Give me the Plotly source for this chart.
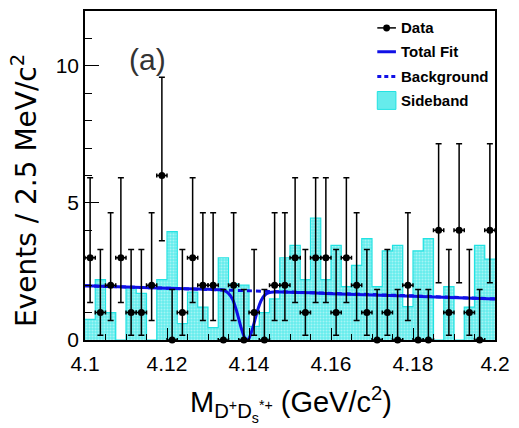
import numpy as np
import plotly.graph_objects as go

# ---------------- data ----------------
bin_low = 4.100
bin_width = 0.0025
n_bins = 40

data_counts = [3, 1, 2, 3, 1, 1, 2, 6, 0, 1,
               3, 2, 2, 0, 2, 0, 1, 0, 2, 2,
               3, 1, 3, 3, 1, 3, 2, 1, 0, 1,
               0, 2, 0, 0, 4, 1, 4, 1, 0, 4]

# asymmetric (Poisson) error sizes, keyed by count
err_up_by_count = {0: 1.84, 1: 2.30, 2: 2.64, 3: 2.92, 4: 3.16, 6: 3.58}
err_lo_by_count = {0: 0.0, 1: 0.83, 2: 1.29, 3: 1.63, 4: 1.91, 6: 2.38}

sideband = [0.75, 2.2, 1.0, 0.0, 1.95, 1.7, 0.0, 2.2, 3.95, 0.6,
            1.75, 1.2, 0.45, 3.0, 2.05, 2.0, 0.5, 1.0, 1.5, 3.0,
            3.45, 2.2, 4.45, 2.2, 3.45, 1.95, 2.72, 3.7, 1.95, 3.25,
            3.45, 1.22, 3.25, 3.7, 0.0, 1.95, 0.0, 1.2, 3.45, 2.95]

bkg_x = [4.100, 4.120, 4.140, 4.160, 4.180, 4.200]
bkg_y = [1.98, 1.89, 1.81, 1.71, 1.61, 1.50]

fit_x = [4.100, 4.120, 4.130, 4.133, 4.134, 4.135, 4.136, 4.137, 4.138,
         4.139, 4.1395, 4.140, 4.141, 4.142, 4.143, 4.144, 4.145, 4.146,
         4.148, 4.155, 4.160, 4.180, 4.200]
fit_y = [1.98, 1.89, 1.85, 1.83, 1.80, 1.70, 1.48, 1.05, 0.49,
         0.06, 0.0, 0.06, 0.48, 1.04, 1.45, 1.66, 1.73, 1.75,
         1.75, 1.72, 1.69, 1.60, 1.50]

x_tick_vals = [4.10, 4.12, 4.14, 4.16, 4.18, 4.20]
x_tick_text = ["4.1", "4.12", "4.14", "4.16", "4.18", "4.2"]
y_tick_vals = [0, 5, 10]
y_tick_text = ["0", "5", "10"]

# ---------------- derived ----------------
centers = bin_low + bin_width * (np.arange(n_bins) + 0.5)
err_up = [err_up_by_count[c] for c in data_counts]
err_lo = [err_lo_by_count[c] for c in data_counts]
edges = bin_low + bin_width * np.arange(n_bins + 1)
step_y = list(sideband) + [sideband[-1]]

FONT = "Liberation Sans, Arial, Helvetica, sans-serif"
WIDE = "DejaVu Sans, Liberation Sans, Arial, sans-serif"
BLUE = "#1010E6"
CYAN_BG = "#66ECEC"
CYAN_EDGE = "#22E2E2"

fig = go.Figure()

# sideband histogram
fig.add_trace(go.Bar(
    x=centers, y=sideband, width=bin_width,
    marker=dict(color=CYAN_BG, line=dict(width=0),
                pattern=dict(shape=".", fgcolor="#E6FCFC", bgcolor=CYAN_BG,
                             size=3, solidity=0.35, fillmode="overlay")),
    showlegend=False, hoverinfo="skip"))
fig.add_trace(go.Scatter(
    x=edges, y=step_y, mode="lines", line=dict(color=CYAN_EDGE, width=1.2, shape="hv"),
    showlegend=False, hoverinfo="skip"))

# background (dotted)
fig.add_trace(go.Scatter(
    x=bkg_x, y=bkg_y, mode="lines",
    line=dict(color=BLUE, width=3, dash="5px,4px"),
    showlegend=False))

# total fit
fig.add_trace(go.Scatter(
    x=fit_x, y=fit_y, mode="lines",
    line=dict(color=BLUE, width=3, shape="spline", smoothing=0.5),
    showlegend=False))

# data
fig.add_trace(go.Scatter(
    x=centers, y=data_counts, mode="markers",
    marker=dict(color="black", size=7, symbol="circle"),
    error_y=dict(type="data", symmetric=False, array=err_up, arrayminus=err_lo,
                 color="black", thickness=1.5, width=3),
    error_x=dict(type="constant", value=bin_width / 2, color="black",
                 thickness=1.5, width=2),
    cliponaxis=False,
    showlegend=False))

L, R, T, B = 85, 16, 9, 88
W, H = 519, 428
pw, ph = W - L - R, H - T - B


def px(x):
    return (x - L) / pw


def py(y):
    return (H - B - y) / ph


# legend (drawn manually)
leg_x0, leg_x1 = 383, 402
shapes = [
    dict(type="line", xref="paper", yref="paper", x0=px(leg_x0), x1=px(leg_x1),
         y0=py(26), y1=py(26), line=dict(color="black", width=1.5)),
    dict(type="circle", xref="paper", yref="paper", x0=px(389), x1=px(396),
         y0=py(29.5), y1=py(22.5), fillcolor="black", line=dict(color="black", width=0)),
    dict(type="line", xref="paper", yref="paper", x0=px(leg_x0), x1=px(leg_x1),
         y0=py(50), y1=py(50), line=dict(color=BLUE, width=3)),
    dict(type="line", xref="paper", yref="paper", x0=px(leg_x0), x1=px(leg_x1),
         y0=py(75), y1=py(75), line=dict(color=BLUE, width=3, dash="4px,3px")),
    dict(type="rect", xref="paper", yref="paper", x0=px(leg_x0), x1=px(leg_x1),
         y0=py(108), y1=py(90), fillcolor=CYAN_BG, line=dict(color=CYAN_EDGE, width=1)),
]

annotations = []
for txt, yy in [("Data", 26), ("Total Fit", 50), ("Background", 75), ("Sideband", 99)]:
    annotations.append(dict(text="<b>%s</b>" % txt, xref="paper", yref="paper",
                            x=px(405), y=py(yy), xanchor="left", yanchor="middle",
                            showarrow=False, font=dict(family=FONT, size=15, color="black")))

annotations.append(dict(text="(a)", xref="paper", yref="paper", x=px(149), y=py(58),
                        xanchor="center", yanchor="middle", showarrow=False,
                        font=dict(family=FONT, size=30, color="#333333")))
annotations.append(dict(text="Events / 2.5 MeV/c<sup>2</sup>", xref="paper", yref="paper",
                        x=px(24), y=py(190), xanchor="center", yanchor="middle",
                        textangle=-90, showarrow=False,
                        font=dict(family=WIDE, size=28, color="black")))
annotations.append(dict(text="M<sub>D<sup>+</sup>D<sub>s</sub><sup>*+</sup></sub> (GeV/c<sup>2</sup>)",
                        xref="paper", yref="paper",
                        x=px(295), y=py(404), xanchor="center", yanchor="middle",
                        showarrow=False,
                        font=dict(family=FONT, size=29, color="black")))

fig.update_layout(
    width=W, height=H,
    margin=dict(l=L, r=R, t=T, b=B, pad=0),
    paper_bgcolor="white", plot_bgcolor="white",
    bargap=0, showlegend=False,
    shapes=shapes, annotations=annotations,
    font=dict(family=FONT, color="black"),
)
fig.update_xaxes(
    range=[4.1, 4.2], tickmode="array", tickvals=x_tick_vals, ticktext=x_tick_text,
    ticks="inside", ticklen=12, tickwidth=1, tickcolor="black",
    minor=dict(dtick=0.005, tick0=4.1, ticks="inside", ticklen=6, tickwidth=1, tickcolor="black"),
    showline=True, linecolor="black", linewidth=1.5, mirror=True,
    showgrid=False, zeroline=False, ticklabelstandoff=4,
    tickfont=dict(family=FONT, size=21, color="black"),
)
fig.update_yaxes(
    range=[0, 12], tickmode="array", tickvals=y_tick_vals, ticktext=y_tick_text,
    ticks="inside", ticklen=14, tickwidth=1, tickcolor="black",
    minor=dict(dtick=1, tick0=0, ticks="inside", ticklen=7, tickwidth=1, tickcolor="black"),
    showline=True, linecolor="black", linewidth=1.5, mirror=True,
    showgrid=False, zeroline=False,
    tickfont=dict(family=FONT, size=21, color="black"),
)

fig.write_html("out.html")
